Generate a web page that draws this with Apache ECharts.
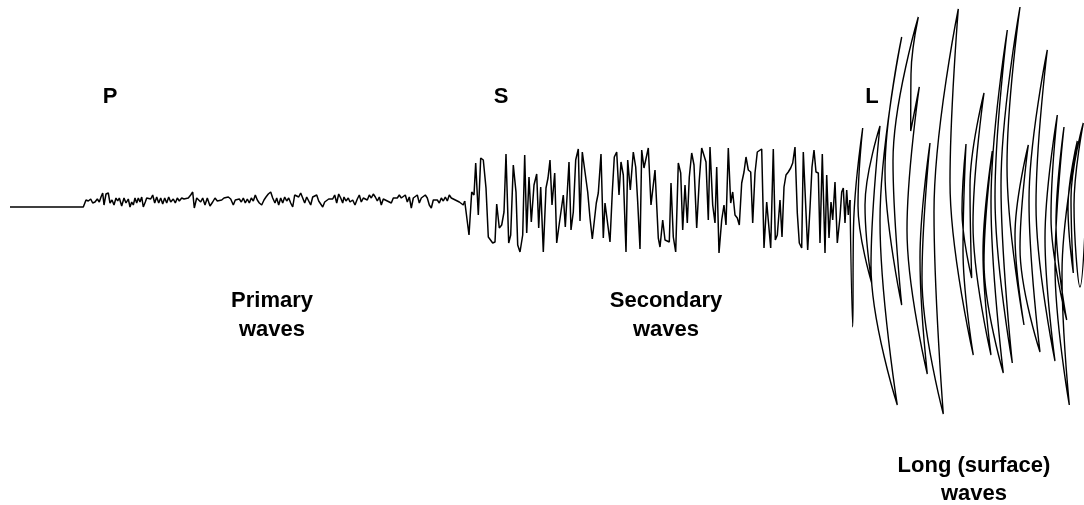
<!DOCTYPE html>
<html>
<head>
<meta charset="utf-8">
<script src="https://cdn.jsdelivr.net/npm/echarts@6.0.0/dist/echarts.min.js"></script>
<style>
  html, body { margin: 0; padding: 0; background: #ffffff; }
  #chart { width: 1084px; height: 505px; }
</style>
</head>
<body>
<div id="chart"></div>
<script>
// ---- Seismogram trace (time units, amplitude units; + is up) ----
// Quiet line + primary (P) waves
const pTime = [
  10, 83.3, 85, 86, 88.3, 90.7, 92.7, 95, 97.3, 99.3,
  101, 102.7, 104, 106, 108.3, 110, 112, 114, 116, 117.7,
  119.3, 121.7, 124, 126, 128.3, 130, 131.7, 133.3, 135, 136.7,
  138.3, 140, 141.7, 143.3, 145.3, 146.7, 148.3, 150.7, 152.7, 154.7,
  156.7, 158.7, 160.7, 162.7, 164.7, 166.7, 168.7, 170.7, 173.3, 175.3,
  177.3, 179.3, 181.7, 184, 186, 188.3, 190.7, 192.7, 194.3, 196.7,
  198.7, 200.7, 202.7, 205, 207.3, 210, 212.7, 215, 217.3, 219.3,
  221.7, 224, 226, 228.3, 230.7, 233.3, 235.3, 237.3, 239.3, 241.3,
  243.3, 245.3, 247.3, 249.3, 251.3, 253.3, 255.3, 257.3, 259.3, 261.7,
  264, 266, 268.3, 270.7, 272.7, 275, 276.7, 278.7, 280.7, 282.7,
  284.7, 286.7, 288.7, 290.7, 292.7, 294.7, 296.7, 298.7, 300.7, 302.7,
  304.7, 306.7, 308.7, 310.7, 312.7, 314.7, 316.7, 318.7, 320.7, 322.7,
  324.7, 326.7, 328.7, 330.7, 332.7, 334.7, 336.7, 338.7, 340.7, 342.7,
  344, 346, 348.3, 350, 352.7, 355, 357.3, 359.3, 361.3, 363.3,
  365.3, 367.3, 369.3, 371.3, 373.3, 375.3, 377.3, 379.3, 381.3, 383.3,
  385.3, 387.3, 389.3, 391.3, 393.3, 395.3, 397.3, 399.3, 401.3, 403.3,
  405.3, 407.3, 409.3, 411.3, 413.3, 415.3, 417.3, 419.3, 421.3, 423.3,
  425.3, 427.3, 429.3, 431.3, 433.3, 435.3, 437.3, 439.3, 441.3, 443.3,
  445.3, 447.3, 449.3, 451.3, 453.3, 455.3, 457.3, 459.3, 461.3, 463.3,
  464.7
];
const pAmp = [
  0, 0, 0, 7, 6, 8, 4, 5, 8, 5,
  10, 14, 2, 13, 14, 4, 7, 2, 9, 6,
  9, 1, 9, 4, 8, 0, 5, 2, 9, 4,
  9, 5, 10, 0, 5, 9, 11, 8, 12, 4,
  10, 4, 9, 3, 9, 4, 10, 5, 8, 4,
  9, 6, 9, 8, 10, 9, 12, 15, -1, 9,
  10, 5, 9, 2, 9, 1, 5, 9, 6, 4,
  7, 9, 11, 10, 8, 2, 7, 5, 8, 5,
  9, 4, 8, 4, 9, 6, 12, 7, 4, 2,
  7, 10, 13, 15, 9, 4, 9, 2, 9, 4,
  10, 6, 9, 4, 0, 12, 13, 10, 14, 9,
  4, 10, 6, 2, 10, 8, 12, 6, 4, 0,
  5, 7, 8, 9, 8, 12, 4, 13, 9, 4,
  10, 6, 9, 5, 7, 2, 8, 12, 5, 9,
  10, 7, 12, 9, 13, 10, 6, 10, 2, 8,
  9, 6, 5, 4, 9, 10, 9, 12, 9, 8,
  12, 5, 10, -1, 9, 7, 12, 4, 9, 10,
  12, 9, 2, -1, 7, 5, 7, 4, 9, 6,
  10, 6, 12, 9, 8, 7, 6, 5, 4, 2,
  6
];
// Secondary (S) waves
const sTime = [
  466.7, 469, 471.7, 474, 475.7, 478.3, 480.7, 483.3, 486, 488.3,
  490, 492.7, 495, 496.7, 499.3, 501.7, 504, 506, 508.7, 510.7,
  513.3, 516, 517.7, 520, 522.7, 524.7, 526.7, 529, 531.3, 534,
  536.7, 538.7, 540.7, 543.3, 546, 548, 550, 552, 554.7, 556.7,
  558.7, 560.7, 563.3, 565.3, 569, 571, 573.3, 575.7, 578.3, 580,
  582.3, 585, 587.7, 590, 592.3, 594.3, 596.3, 598.3, 601, 603.3,
  605, 607, 610, 612.3, 614.3, 616.7, 619, 621, 623.3, 626,
  627.7, 630.3, 633.3, 635.7, 637.7, 640, 641.7, 644, 648.3, 651,
  655, 658.3, 660, 662.7, 665, 669.3, 671, 673.3, 675.7, 678.3,
  680.7, 682.7, 685, 687.3, 689.3, 691.7, 694, 696.7, 699.3, 701.7,
  703.3, 706, 708.3, 710, 712.7, 715, 716.7, 719, 721.7, 724,
  726, 728.3, 730.7, 732.7, 735, 737.3, 739.3, 741.7, 744, 746,
  748.3, 750.7, 752.7, 755, 757.3, 759.3, 761.7, 764, 766.7, 768.7,
  770.7, 773.3, 775.3, 777.3, 780, 782, 784, 786, 788.3, 790.7,
  792.7, 795, 797.3, 799.3, 801.7, 803.3, 805.3, 807.7, 810, 812,
  814, 816, 818.3, 820, 822.3, 825, 826.7, 829, 831, 832.7,
  835, 837.3, 840, 841.7, 843.3, 845, 846.7, 848.3, 850
];
const sAmp = [
  5, -28, 15, 12, 44, -8, 49, 47, 19, -30,
  -28, -36, -35, 3, -21, -18, -5, 53, -36, -28,
  42, 15, -38, -45, -28, 52, -26, 30, -15, 22,
  33, -21, 20, -45, 19, 29, 47, 2, 34, -36,
  -21, -23, 12, -20, 45, -23, -5, 47, 58, -14,
  55, 35, 15, -11, -32, -31, 4, 14, 53, -31,
  4, 2, -35, 15, 50, 55, 12, 45, 32, -45,
  47, 17, 55, 40, 5, -42, 57, 39, 59, 2,
  37, -31, -40, -13, -33, -35, 24, -30, -45, 44,
  34, -23, 22, -16, 30, 54, 42, -21, 27, 59,
  59, 45, -13, 60, 2, -16, 40, -46, -13, 2,
  -18, 59, 4, 15, -8, -11, -18, 24, 35, 50,
  37, 35, -16, 34, 55, 54, 58, -41, 5, 7,
  -41, 58, -33, -28, 7, -30, 20, 32, 35, 39,
  44, 60, -6, -36, -41, 55, 54, -43, -1, 40,
  57, 35, 34, -36, 53, -46, 32, -31, 5, -13,
  25, -36, -10, 15, 19, -16, 17, -8, 7
];
// Long (surface) waves: swing ends, each followed by a point read at mid-swing on the curved stroke
const lTime = [
  852.7, 853.5, 862.7, 858, 871.7, 865, 880, 871, 897.3, 880,
  901.7, 885, 901.7, 893, 918.3, 911, 910.7, 919.3, 907, 927.3,
  920, 930, 922, 943.3, 934, 958.3, 950, 973.3, 963, 966,
  962, 971.7, 970, 984, 973, 991, 983, 992.3, 984, 1003.3,
  991, 1007.3, 995, 1012.3, 1001, 1020, 1007, 1024, 1015, 1028.3,
  1020, 1040, 1029, 1047.3, 1036, 1055, 1045, 1057.3, 1051, 1066.7,
  1056, 1064, 1055, 1069.3, 1062, 1077.3, 1068, 1073.3, 1071, 1083.3,
  1074, 1080, 1090
];
const lAmp = [
  -120, -21, 79, 1, -76, 2, 81, -59, -198, -14,
  170, 36, -98, 46, 190, 133, 76, 120, -23, -167,
  -51, 64, -71, -207, -5, 198, 25, -148, -43, 63,
  -4, -71, 21, 114, -17, -148, -46, 56, -55, -166,
  5, 177, 10, -156, 22, 200, 41, -118, -28, 62,
  -41, -145, 6, 157, 2, -154, -31, 92, -10, -113,
  -16, 80, -59, -198, -66, 66, 0, -66, 9, 84,
  2, -80, 107
];
// Phase markers and captions
const phaseLetters = ['P', 'S', 'L'];
const captions = [['Primary', 'waves'], ['Secondary', 'waves'], ['Long (surface)', 'waves']];

function zip(t, a) { return t.map((v, i) => [v, a[i]]); }
const pData = zip(pTime, pAmp);
const sData = [pData[pData.length - 1]].concat(zip(sTime, sAmp));
const lData = [sData[sData.length - 1]].concat(zip(lTime, lAmp));

const FONT = 'bold 22px "Liberation Sans", Arial, Helvetica, sans-serif';
function txt(text, x, y) {
  return { type: 'text', x: x, y: y, silent: true,
    style: { text: text, font: FONT, fill: '#000', textAlign: 'center', textVerticalAlign: 'middle' } };
}

const chart = echarts.init(document.getElementById('chart'), null, { renderer: 'canvas' });
const lineStyle = { color: '#000', width: 1.5 };
chart.setOption({
  animation: false,
  backgroundColor: '#ffffff',
  grid: { left: 0, right: 0, top: 0, bottom: 0 },
  xAxis: { type: 'value', min: 0, max: 1084, show: false },
  yAxis: { type: 'value', min: -298, max: 207, show: false },
  series: [
    { type: 'line', data: pData, showSymbol: false, symbol: 'none', lineStyle: lineStyle, silent: true },
    { type: 'line', data: sData, showSymbol: false, symbol: 'none', lineStyle: lineStyle, silent: true },
    { type: 'line', data: lData, showSymbol: false, symbol: 'none', smooth: 0.4,
      lineStyle: { color: '#000', width: 1.4 }, silent: true }
  ],
  graphic: [
    txt(phaseLetters[0], 110, 97),
    txt(phaseLetters[1], 501, 97),
    txt(phaseLetters[2], 872, 97),
    txt(captions[0][0], 272, 301), txt(captions[0][1], 272, 330),
    txt(captions[1][0], 666, 301), txt(captions[1][1], 666, 330),
    txt(captions[2][0], 974, 466), txt(captions[2][1], 974, 494)
  ]
});
</script>
</body>
</html>
